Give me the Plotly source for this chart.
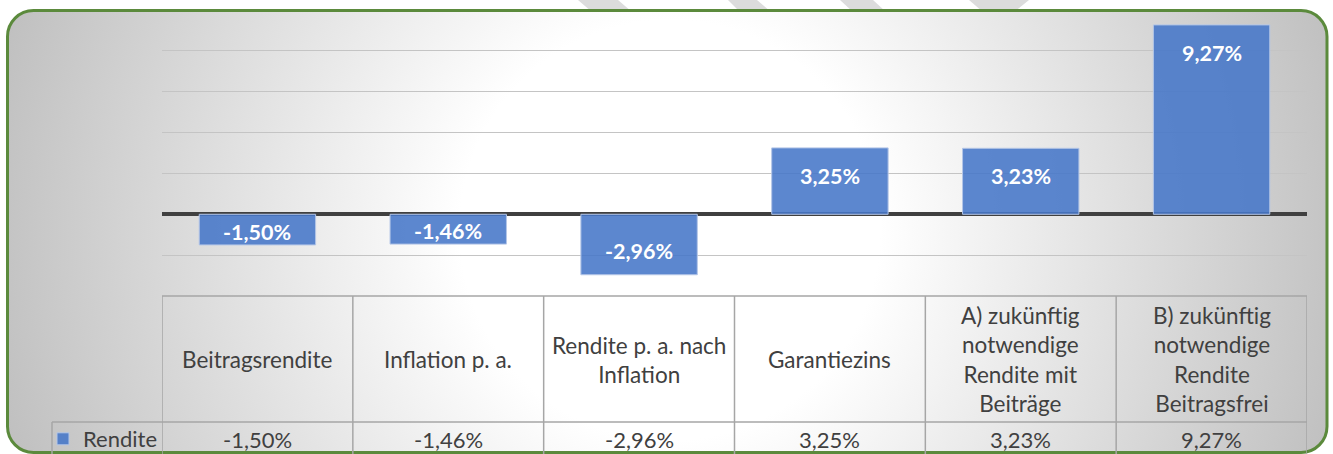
import base64
import plotly.graph_objects as go

# ---- data ----
categories = ["Beitragsrendite", "Inflation p. a.", "Rendite p. a. nach Inflation",
              "Garantiezins", "A) zukünftig notwendige Rendite mit Beiträge",
              "B) zukünftig notwendige Rendite Beitragsfrei"]
header_labels = ["Beitragsrendite", "Inflation p. a.", "Rendite p. a. nach<br>Inflation",
                 "Garantiezins", "A) zukünftig<br>notwendige<br>Rendite mit<br>Beiträge",
                 "B) zukünftig<br>notwendige<br>Rendite<br>Beitragsfrei"]
series_name = "Rendite"
values = [-1.50, -1.46, -2.96, 3.25, 3.23, 9.27]   # percent


def fmt(v):
    return f"{v:.2f}".replace(".", ",") + "%"


FONT = "Lato"
FS = 22.5
ROW_FS = 22
LBL_FS = 21.5
TXT = "#404040"
GRID_LINE = "#A6A6A6"

# ---- background (gradient panel with rounded green border) ----
W, H = 1333, 454
svg = f'''<svg xmlns="http://www.w3.org/2000/svg" width="{W}" height="{H}" viewBox="0 0 {W} {H}" preserveAspectRatio="none">
<defs><radialGradient id="g" gradientUnits="userSpaceOnUse" cx="670" cy="230" r="700">
<stop offset="0" stop-color="#ffffff"/><stop offset="0.3" stop-color="#ffffff"/>
<stop offset="1" stop-color="#bfbfbf"/></radialGradient></defs>
<rect x="0" y="0" width="{W}" height="{H}" fill="#ffffff"/>
<polygon points="578,0 618,0 632,12 592,12" fill="#dcdcdc"/>
<polygon points="728,0 757,0 771,12 740,12" fill="#dcdcdc"/>
<polygon points="840,0 873,0 886,12 853,12" fill="#dcdcdc"/>
<polygon points="969,0 1029,0 1014,12 983,12" fill="#dcdcdc"/>
<rect x="7.5" y="10.5" width="1319.5" height="442" rx="26" ry="26" fill="url(#g)" stroke="#5b8a3c" stroke-width="3"/>
</svg>'''
svg_uri = "data:image/svg+xml;base64," + base64.b64encode(svg.encode("utf-8")).decode("ascii")

L, R, T, B = 162, 26, 10, 158
PW, PH = W - L - R, H - T - B


def px_to_paper_x(px):
    return (px - L) / PW


def py_to_paper_y(py):
    return (H - B - py) / PH


fig = go.Figure()
fig.add_trace(go.Bar(
    x=categories, y=values, name=series_name,
    marker=dict(color="rgba(70,118,200,0.88)", line=dict(color="#B4C6E7", width=1)),
    hoverinfo="skip",
))

annotations = []
# data labels inside bar ends
for c, v in zip(categories, values):
    if v >= 0:
        y, shift = v, -28
    elif abs(v) > 2.5:
        y, shift = v, 24
    else:
        y, shift = v / 2, -2
    annotations.append(dict(x=c, y=y, xref="x", yref="y", text=f"<b>{fmt(v)}</b>",
                            showarrow=False, yanchor="middle", yshift=shift,
                            font=dict(family=FONT, size=LBL_FS, color="white")))

header_y = py_to_paper_y(359.5)
row_y = py_to_paper_y(439)
for c, lab, v in zip(categories, header_labels, values):
    annotations.append(dict(x=c, y=header_y, xref="x", yref="paper", text=lab,
                            showarrow=False, yanchor="middle", align="center",
                            font=dict(family=FONT, size=FS, color=TXT)))
    annotations.append(dict(x=c, y=row_y, xref="x", yref="paper", text=fmt(v),
                            showarrow=False, yanchor="middle", align="center",
                            font=dict(family=FONT, size=ROW_FS, color=TXT)))

# ---- data table grid ----
shapes = []
row_line = py_to_paper_y(422)
bottom = py_to_paper_y(470)
left_col = px_to_paper_x(52)
n = len(categories)
shapes.append(dict(type="line", xref="x", yref="paper", x0=-0.5, x1=n - 0.5, y0=0, y1=0,
                   line=dict(color=GRID_LINE, width=1.5)))
shapes.append(dict(type="line", xref="paper", yref="paper", x0=left_col, x1=1, y0=row_line, y1=row_line,
                   line=dict(color=GRID_LINE, width=1.5)))
shapes.append(dict(type="line", xref="paper", yref="paper", x0=left_col, x1=left_col, y0=row_line, y1=bottom,
                   line=dict(color=GRID_LINE, width=1.5)))
for i in range(n + 1):
    shapes.append(dict(type="line", xref="x", yref="paper", x0=i - 0.5, x1=i - 0.5, y0=0, y1=bottom,
                       line=dict(color=GRID_LINE, width=1.5)))

fig.update_layout(
    width=W, height=H,
    margin=dict(l=L, r=R, t=T, b=B, pad=0, autoexpand=False),
    paper_bgcolor="white",
    plot_bgcolor="rgba(0,0,0,0)",
    bargap=0.39,
    font=dict(family=FONT, size=FS, color=TXT),
    images=[dict(source=svg_uri, xref="paper", yref="paper",
                 x=-L / PW, y=1 + T / PH, sizex=W / PW, sizey=H / PH,
                 xanchor="left", yanchor="top", sizing="stretch", layer="below")],
    showlegend=True,
    legend=dict(x=px_to_paper_x(43), y=row_y, xanchor="left", yanchor="middle",
                bgcolor="rgba(0,0,0,0)", borderwidth=0,
                font=dict(family=FONT, size=ROW_FS, color=TXT), itemclick=False),
    annotations=annotations,
    shapes=shapes,
)
fig.update_xaxes(showticklabels=False, showgrid=False, zeroline=False, showline=False,
                 range=[-0.5, n - 0.5])
fig.update_yaxes(range=[-4, 10], dtick=2, showticklabels=False, showgrid=True,
                 gridcolor="#C4C4C4", gridwidth=1, zeroline=True, zerolinecolor="#404040",
                 zerolinewidth=3.5, showline=False)

fig.write_html("out.html", config={"displayModeBar": False},
               post_script="document.body.style.margin='0px';document.body.style.overflow='hidden';")
